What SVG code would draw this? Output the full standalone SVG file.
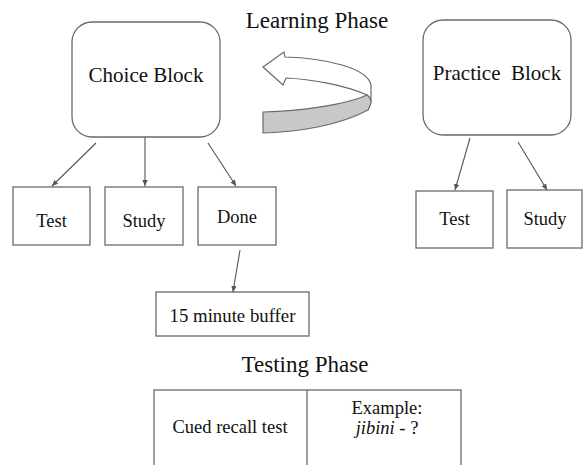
<svg xmlns="http://www.w3.org/2000/svg" width="583" height="465" viewBox="0 0 583 465">
<style>
.box{fill:#fff;stroke:#6a6a6a;stroke-width:1.3}
.t{font-family:'Liberation Serif','Times New Roman','DejaVu Serif',serif;fill:#111;text-anchor:middle}
.c{stroke:#555;stroke-width:1.1;fill:none;marker-end:url(#ah)}
</style>
<defs>
<marker id="ah" markerWidth="7" markerHeight="7" refX="6" refY="3.5" orient="auto" markerUnits="userSpaceOnUse">
<path d="M0,0.8 L6,3.5 L0,6.2 Z" fill="#555"/>
</marker>
</defs>
<rect width="583" height="465" fill="#fff"/>
<text class="t" x="317" y="28" font-size="23" font-family="Liberation Serif, serif">Learning Phase</text>
<g id="choice-block">
<rect class="box" x="72" y="22" width="148" height="115" rx="20"/>
<text class="t" x="146" y="82" font-size="21" font-family="Liberation Serif, serif">Choice Block</text>
</g>
<g id="practice-block">
<rect class="box" x="423" y="20" width="148" height="115" rx="20"/>
<text class="t" x="497" y="80" font-size="21" font-family="Liberation Serif, serif" xml:space="preserve">Practice  Block</text>
</g>
<g id="cycle-arrow">
<path d="M263,67 L284,52 L285,57 C325,58 368,68 371,85 L371,102 C370,98 368,96 367,95 C345,85 310,79 286,78 L283,85 Z" fill="#fff" stroke="#6a6a6a" stroke-width="1.2"/>
<path d="M263,112 C300,111 345,105 367,95 C370,97 371,100 371,103 C370,106 369,108 368,110 C340,125 300,132 263,133 Z" fill="#c8c8c8" stroke="#6a6a6a" stroke-width="1.2"/>
</g>
<g id="test-left">
<rect class="box" x="13" y="187" width="77" height="58"/>
<text class="t" x="51.5" y="227" font-size="18.5" font-family="Liberation Serif, serif">Test</text>
</g>
<g id="study-left">
<rect class="box" x="105" y="187" width="78" height="58"/>
<text class="t" x="144" y="227" font-size="18.5" font-family="Liberation Serif, serif">Study</text>
</g>
<g id="done">
<rect class="box" x="198" y="187" width="78" height="58"/>
<text class="t" x="237" y="223" font-size="18.5" font-family="Liberation Serif, serif">Done</text>
</g>
<g id="test-right">
<rect class="box" x="416" y="191" width="77" height="57"/>
<text class="t" x="454.5" y="225" font-size="18.5" font-family="Liberation Serif, serif">Test</text>
</g>
<g id="study-right">
<rect class="box" x="507" y="190" width="75" height="58"/>
<text class="t" x="545" y="225" font-size="18.5" font-family="Liberation Serif, serif">Study</text>
</g>
<g id="buffer">
<rect class="box" x="156" y="292" width="153" height="44"/>
<text class="t" x="232.5" y="322" font-size="18.8" font-family="Liberation Serif, serif">15 minute buffer</text>
</g>
<text class="t" x="305" y="372" font-size="23" font-family="Liberation Serif, serif">Testing Phase</text>
<g id="testing-table">
<rect class="box" x="154" y="390" width="307" height="90"/>
<line x1="307" y1="390" x2="307" y2="470" stroke="#6a6a6a" stroke-width="1.3"/>
<text class="t" x="230" y="433" font-size="18.5" font-family="Liberation Serif, serif">Cued recall test</text>
<text class="t" x="387" y="414" font-size="18.5" font-family="Liberation Serif, serif">Example:</text>
<text class="t" x="387" y="434" font-size="18.5" font-family="Liberation Serif, serif"><tspan font-style="italic">jibini</tspan> - ?</text>
</g>
<g id="connectors">
<line class="c" x1="96" y1="143" x2="52" y2="186"/>
<line class="c" x1="145" y1="137" x2="145" y2="186"/>
<line class="c" x1="208" y1="143" x2="236" y2="186"/>
<line class="c" x1="240" y1="250" x2="233" y2="292"/>
<line class="c" x1="470" y1="138" x2="455" y2="190"/>
<line class="c" x1="518" y1="142" x2="547" y2="190"/>
</g>
</svg>
